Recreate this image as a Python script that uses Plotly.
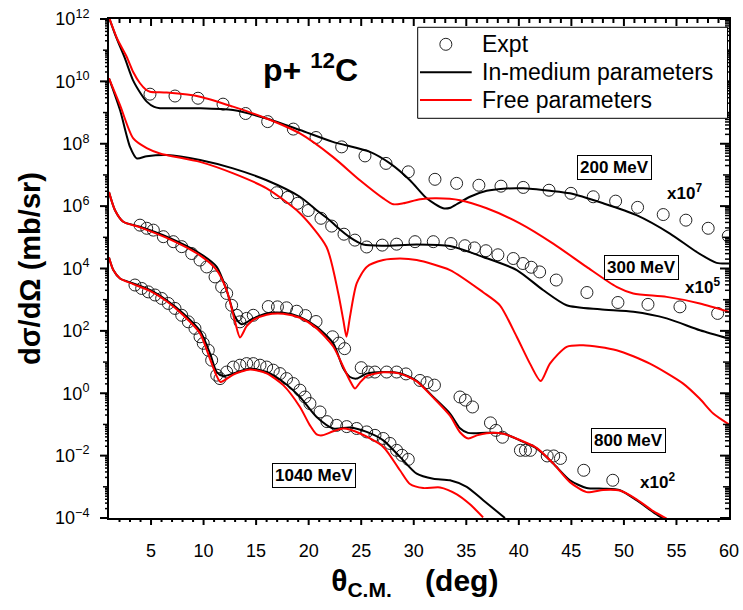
import math
import plotly.graph_objects as go

# ---------------- data (x = theta_cm in deg, values given as log10 of dsigma/dOmega) ----------------
# 200 MeV (scaled x10^7)
e200_expt_x = [4.90, 7.28, 9.47, 11.85, 14.0, 16.1, 18.54, 20.7, 23.14, 25.36, 27.36, 29.48, 32.02, 34.08,
               36.2, 38.3, 40.42, 42.87, 44.96, 47.08, 49.21, 51.3, 53.74, 55.9, 58.02, 59.93]
e200_expt_log10y = [9.59, 9.53, 9.46, 9.27, 8.97, 8.71, 8.47, 8.20, 7.90, 7.61, 7.37, 7.10, 6.86, 6.73,
                    6.67, 6.64, 6.60, 6.51, 6.41, 6.30, 6.16, 5.96, 5.73, 5.55, 5.29, 5.04]
e200_med_x = [1.0, 1.7, 2.5, 3.28, 4.0, 4.59, 5.3, 5.85, 7.5, 9.66, 12.8, 16.0, 19.17, 22.3, 25.83, 27.74,
              29.64, 31.23, 32.8, 33.5, 34.08, 35.35, 36.94, 38.52, 40.42, 42.96, 44.87, 48.03, 51.2,
              54.38, 56.92, 58.82, 60.0]
e200_med_log10y = [12.05, 11.4, 10.75, 10.04, 9.62, 9.35, 9.18, 9.14, 9.14, 9.14, 9.08, 8.81, 8.44, 8.06,
                   7.74, 7.37, 6.83, 6.25, 5.93, 5.95, 6.06, 6.30, 6.49, 6.56, 6.57, 6.49, 6.41, 6.09,
                   5.71, 5.12, 4.53, 4.18, 4.16]
e200_free_x = [1.0, 1.8, 2.68, 3.3, 3.95, 4.5, 4.9, 6.49, 9.66, 12.8, 16.0, 19.17, 22.3, 24.88, 27.1, 28.05,
               29.0, 30.6, 32.18, 34.4, 36.94, 40.1, 43.27, 46.45, 49.3, 50.89, 54.06, 57.23, 60.0]
e200_free_log10y = [12.05, 11.35, 10.79, 10.3, 9.94, 9.74, 9.67, 9.64, 9.51, 9.19, 8.81, 8.33, 7.58, 6.83,
                    6.25, 6.06, 6.09, 6.22, 6.25, 6.19, 5.93, 5.45, 4.80, 4.05, 3.41, 3.20, 3.09, 2.88, 2.61]

# 300 MeV (scaled x10^5)
e300_expt_x = [16.96, 18.0, 18.95, 19.96, 21.17, 22.19, 23.36, 24.4, 25.52, 27.0, 28.37, 30.12, 31.86, 33.54,
               34.87, 35.78, 36.87, 38.01, 39.47, 40.39, 41.18, 41.98, 43.56, 46.48, 49.43, 52.29, 55.33, 58.92]
e300_expt_log10y = [6.43, 6.28, 6.09, 5.86, 5.61, 5.36, 5.10, 4.91, 4.69, 4.75, 4.78, 4.86, 4.86, 4.80,
                    4.73, 4.66, 4.57, 4.44, 4.32, 4.16, 4.04, 3.89, 3.63, 3.23, 2.91, 2.85, 2.77, 2.56]
e300_med_x = [1.0, 2.05, 3.0, 3.64, 4.59, 6.49, 9.66, 12.8, 16.0, 19.17, 20.76, 22.0, 22.67, 23.93, 25.2,
              27.1, 30.28, 33.45, 36.6, 39.8, 42.3, 44.55, 47.72, 50.9, 54.07, 57.24, 60.0]
e300_med_log10y = [10.1, 9.08, 7.90, 7.53, 7.60, 7.64, 7.48, 7.21, 6.83, 6.30, 5.87, 5.55, 5.34, 5.0, 4.77,
                   4.73, 4.77, 4.72, 4.37, 3.95, 3.31, 2.82, 2.69, 2.61, 2.40, 2.02, 1.75]
e300_free_x = [1.0, 2.05, 3.31, 4.59, 5.85, 9.66, 12.83, 16.0, 19.17, 21.7, 22.82, 23.3, 23.6, 23.93, 24.57,
               25.52, 27.1, 28.69, 30.28, 33.45, 36.6, 38.2, 39.8, 41.06, 42.08, 42.96, 44.55, 46.13, 49.3,
               52.47, 55.64, 57.2, 58.5, 60.0]
e300_free_log10y = [10.1, 9.24, 8.17, 7.86, 7.69, 7.42, 7.05, 6.57, 5.77, 4.69, 3.20, 2.34, 1.81, 2.45, 3.52,
                    4.05, 4.27, 4.32, 4.27, 3.95, 3.24, 2.82, 1.81, 0.95, 0.39, 0.95, 1.49, 1.54, 1.38,
                    0.95, 0.31, -0.17, -0.65, -1.0]

# 800 MeV (scaled x10^2)
e800_expt_x = [3.95, 4.59, 5.22, 6.17, 7.12, 7.92, 8.87, 9.66, 10.3, 11.09, 11.72, 12.2, 12.67, 13.15, 13.46,
               14.1, 14.73, 16.16, 17.03, 17.9, 18.86, 19.7, 20.7, 22.27, 22.88, 23.42, 25.0, 25.67, 26.3,
               27.42, 28.37, 29.26, 30.59, 31.26, 31.97, 34.4, 34.92, 35.59, 37.3, 37.82, 38.44, 40.15,
               40.63, 41.1, 42.7, 43.32, 43.96, 46.18, 48.94]
e800_expt_log10y = [5.39, 5.29, 5.23, 5.02, 4.86, 4.70, 4.48, 4.27, 4.05, 3.73, 3.41, 3.20, 2.82, 2.50, 2.29,
                    2.40, 2.50, 2.78, 2.77, 2.74, 2.63, 2.49, 2.30, 1.81, 1.61, 1.43, 0.82, 0.68, 0.68,
                    0.68, 0.68, 0.62, 0.41, 0.34, 0.26, -0.12, -0.22, -0.44, -0.95, -1.19, -1.41, -1.83,
                    -1.83, -1.83, -2.01, -2.01, -2.09, -2.47, -2.79]
e800_med_x = [1.0, 1.57, 2.36, 3.95, 6.49, 9.66, 11.25, 12.2, 12.99, 13.63, 14.73, 16.0, 17.58, 19.17, 20.76,
              22.34, 23.29, 23.93, 24.57, 25.52, 27.1, 28.69, 30.28, 31.86, 33.45, 34.4, 35.16, 36.94,
              38.52, 40.1, 41.69, 43.27, 44.86, 46.45, 48.03, 49.62, 51.2, 52.79, 53.74]
e800_med_log10y = [6.45, 5.87, 5.50, 5.34, 5.02, 4.48, 4.05, 3.30, 2.45, 2.21, 2.40, 2.56, 2.58, 2.45, 2.13,
                   1.60, 0.80, 0.52, 0.47, 0.63, 0.68, 0.64, 0.40, -0.12, -0.65, -1.12, -1.27, -1.27,
                   -1.29, -1.51, -1.77, -2.25, -2.79, -3.04, -3.06, -3.11, -3.43, -3.81, -4.02]
e800_free_x = [1.0, 1.57, 2.36, 3.95, 6.49, 9.66, 11.25, 12.2, 12.99, 13.47, 14.1, 14.73, 16.0, 17.58, 19.17,
               20.76, 22.34, 23.29, 23.93, 24.4, 24.9, 25.52, 27.1, 28.69, 30.28, 31.86, 33.45, 34.4, 35.19,
               36.0, 36.94, 38.52, 40.1, 41.69, 43.27, 44.86, 46.45, 48.03, 49.62, 51.2, 52.79, 54.06]
e800_free_log10y = [6.45, 5.87, 5.50, 5.32, 4.98, 4.42, 3.95, 3.30, 2.30, 1.79, 2.15, 2.35, 2.52, 2.55, 2.42,
                    2.08, 1.50, 0.85, 0.40, 0.15, 0.35, 0.55, 0.67, 0.63, 0.38, -0.14, -0.72, -1.25, -1.45,
                    -1.35, -1.28, -1.30, -1.50, -1.75, -2.25, -2.85, -3.17, -3.10, -3.12, -3.40, -3.78, -4.02]

# 1040 MeV (unscaled)
e1040_expt_x = [3.47, 4.11, 4.74, 5.38, 6.01, 6.64, 7.28, 7.92, 8.55, 9.18, 9.66, 9.97, 10.45, 10.77, 11.25,
                11.56, 12.2, 12.83, 13.46, 14.1, 14.73, 15.37, 16.0, 16.63, 17.27, 17.9, 18.54, 19.17,
                19.65, 20.12, 21.08, 21.74, 22.66, 23.62, 24.57, 25.52, 26.31, 27.1, 27.74, 28.37, 28.88, 29.48]
e1040_expt_log10y = [3.47, 3.36, 3.25, 3.15, 3.04, 2.88, 2.72, 2.50, 2.29, 2.08, 1.81, 1.60, 1.38, 1.06, 0.58,
                     0.47, 0.68, 0.84, 0.90, 0.95, 0.95, 0.90, 0.84, 0.74, 0.63, 0.47, 0.31, 0.10,
                     -0.12, -0.33, -0.60, -0.91, -1.03, -1.07, -1.13, -1.24, -1.35, -1.45, -1.61, -1.83,
                     -1.99, -2.12]
e1040_med_x = [1.0, 1.41, 2.05, 3.31, 4.9, 6.49, 8.07, 9.66, 10.61, 11.25, 11.88, 12.83, 14.42, 16.0, 17.58,
               19.17, 20.76, 22.34, 23.93, 25.52, 27.1, 28.69, 30.28, 31.86, 33.45, 35.04, 36.61, 38.68]
e1040_med_log10y = [4.35, 3.95, 3.68, 3.52, 3.31, 2.98, 2.56, 2.0, 1.28, 0.68, 0.55, 0.63, 0.79, 0.68, 0.36,
                    -0.12, -0.76, -1.13, -1.10, -1.24, -1.51, -2.04, -2.58, -2.74, -2.79, -3.0, -3.43, -4.0]
e1040_free_x = [1.0, 1.41, 2.05, 3.31, 4.9, 6.49, 8.07, 9.66, 10.61, 11.25, 11.6, 12.0, 12.83, 14.42, 16.0,
                17.58, 19.17, 20.12, 20.76, 21.3, 22.34, 23.3, 24.9, 27.1, 28.69, 29.64, 30.9, 32.5, 34.1,
                35.35, 36.6]
e1040_free_log10y = [4.35, 3.95, 3.68, 3.50, 3.28, 2.95, 2.50, 1.92, 1.10, 0.55, 0.36, 0.42, 0.60, 0.76, 0.64,
                     0.26, -0.44, -1.03, -1.32, -1.35, -1.22, -1.13, -1.29, -1.72, -2.47, -2.91, -3.04,
                     -3.02, -3.24, -3.56, -3.98]

energy_labels = ["200 MeV", "300 MeV", "800 MeV", "1040 MeV"]
scale_labels = ["x10<sup>7</sup>", "x10<sup>5</sup>", "x10<sup>2</sup>"]
legend_names = ["Expt", "In-medium parameters", "Free parameters"]
y_tick_exponents = [-4, -2, 0, 2, 4, 6, 8, 10, 12]
y_tick_labels = ["10<sup>−4</sup>", "10<sup>−2</sup>", "10<sup>0</sup>", "10<sup>2</sup>", "10<sup>4</sup>",
                 "10<sup>6</sup>", "10<sup>8</sup>", "10<sup>10</sup>", "10<sup>12</sup>"]

FONT = "Liberation Sans, Arial, sans-serif"
BLACK = "black"
RED = "#ff0000"
MARK = "#222222"
X_RANGE = [1, 60]
Y_LOG_RANGE = [-4, 12]
PLOT_W = 743 - 109 - 14   # plot area width in px
PLOT_H = 610 - 19 - 92    # plot area height in px


def lin(vals):
    return [10 ** v for v in vals]


fig = go.Figure()

datasets = [
    (e200_expt_x, e200_expt_log10y, e200_med_x, e200_med_log10y, e200_free_x, e200_free_log10y),
    (e300_expt_x, e300_expt_log10y, e300_med_x, e300_med_log10y, e300_free_x, e300_free_log10y),
    (e800_expt_x, e800_expt_log10y, e800_med_x, e800_med_log10y, e800_free_x, e800_free_log10y),
    (e1040_expt_x, e1040_expt_log10y, e1040_med_x, e1040_med_log10y, e1040_free_x, e1040_free_log10y),
]

for ex, ey, mx, my, fx, fy in datasets:
    fig.add_trace(go.Scatter(x=ex, y=lin(ey), mode="markers", name=legend_names[0], showlegend=False,
                             marker=dict(symbol="circle-open", size=12, color=MARK,
                                         line=dict(width=1, color=MARK))))
for ex, ey, mx, my, fx, fy in datasets:
    fig.add_trace(go.Scatter(x=mx, y=lin(my), mode="lines", name=legend_names[1], showlegend=False,
                             line=dict(color=BLACK, width=2, shape="spline", smoothing=0.7)))
for ex, ey, mx, my, fx, fy in datasets:
    fig.add_trace(go.Scatter(x=fx, y=lin(fy), mode="lines", name=legend_names[2], showlegend=False,
                             line=dict(color=RED, width=2, shape="spline", smoothing=0.7)))

tickfont = dict(family=FONT, size=18, color="black")
CLEAR = "rgba(0,0,0,0)"

fig.update_layout(
    width=743, height=610,
    margin=dict(l=109, r=14, t=19, b=92),
    paper_bgcolor="white", plot_bgcolor="white",
    font=dict(family=FONT, color="black"),
    showlegend=False,
    # native ticks are transparent: they only set the label distance; visible ticks are drawn below
    xaxis=dict(range=X_RANGE, tick0=0, dtick=5, ticks="outside", ticklen=15, tickcolor=CLEAR,
               showline=True, linewidth=2, linecolor="black", mirror=True,
               showgrid=False, zeroline=False, tickfont=tickfont, automargin=False,
               title=dict(text="<b>θ<sub>C.M.</sub>\u00a0\u00a0\u00a0\u00a0(deg)\u00a0</b>",
                          font=dict(family=FONT, size=30, color="black"), standoff=10)),
    yaxis=dict(type="log", range=Y_LOG_RANGE, tickmode="array",
               tickvals=[10.0 ** e for e in y_tick_exponents],
               ticktext=y_tick_labels, ticks="outside", ticklen=14, tickcolor=CLEAR,
               showline=True, linewidth=2, linecolor="black", mirror=True, showgrid=False,
               zeroline=False, tickfont=tickfont, automargin=False,
               title=dict(text="<b>dσ/dΩ (mb/sr)</b>",
                          font=dict(family=FONT, size=29, color="black"), standoff=6)),
)

# ---- visible tick marks (Origin style): outside on left/bottom, inside on top/right ----
tick_major = dict(color="black", width=2)
tick_minor = dict(color="black", width=1.5)
for n in range(Y_LOG_RANGE[0], Y_LOG_RANGE[1] + 1):
    for k in range(1, 10):
        if n == Y_LOG_RANGE[1] and k > 1:
            break
        yf = (n + math.log10(k) - Y_LOG_RANGE[0]) / (Y_LOG_RANGE[1] - Y_LOG_RANGE[0])
        major = (k == 1 and n % 2 == 0)
        ln = 9 if major else (6 if k == 1 else 4)
        style = tick_major if major else tick_minor
        fig.add_shape(type="line", xref="paper", yref="paper", x0=-ln / PLOT_W, x1=0,
                      y0=yf, y1=yf, line=style)
        fig.add_shape(type="line", xref="paper", yref="paper", x0=1 - ln / PLOT_W, x1=1,
                      y0=yf, y1=yf, line=style)
for xv in range(2, 60):
    ln = 7 if xv % 5 == 0 else 4
    xf = (xv - X_RANGE[0]) / (X_RANGE[1] - X_RANGE[0])
    fig.add_shape(type="line", xref="paper", yref="paper", x0=xf, x1=xf, y0=0, y1=-ln / PLOT_H,
                  line=tick_major)
    fig.add_shape(type="line", xref="paper", yref="paper", x0=xf, x1=xf, y0=1, y1=1 - ln / PLOT_H,
                  line=tick_major)

# energy labels (boxed) and scale factors
label_pos = [(49.12, 7.25), (51.65, 4.03), (50.41, -1.51), (20.49, -2.65)]
for txt, (lx, ly) in zip(energy_labels, label_pos):
    fig.add_annotation(x=lx, y=ly, xref="x", yref="y", text="<b>" + txt + "</b>", showarrow=False,
                       font=dict(family=FONT, size=17, color="black"), bordercolor="black",
                       borderwidth=1, borderpad=2, bgcolor="white")
scale_pos = [(55.8, 6.45), (57.45, 3.45), (53.24, -2.8)]
for txt, (lx, ly) in zip(scale_labels, scale_pos):
    fig.add_annotation(x=lx, y=ly, xref="x", yref="y", text="<b>" + txt + "</b>", showarrow=False,
                       font=dict(family=FONT, size=17, color="black"))

fig.add_annotation(x=20.13, y=10.43, xref="x", yref="y", text="<b>p+ <sup>12</sup>C</b>",
                   showarrow=False, font=dict(family=FONT, size=32, color="black"))

# ---- legend box (drawn in paper coordinates) ----
legend_box = dict(x0=0.4979, x1=0.9976, y0=0.801, y1=0.9834)
legend_rows_y = [0.9493, 0.8932, 0.8377]
legend_sym_x = (0.5016, 0.5850)
legend_text_x = 0.598
fig.add_shape(type="rect", xref="paper", yref="paper", line=dict(color="black", width=1),
              fillcolor="white", **legend_box)
fig.add_shape(type="circle", xref="paper", yref="paper", xsizemode="pixel", ysizemode="pixel",
              xanchor=(legend_sym_x[0] + legend_sym_x[1]) / 2, yanchor=legend_rows_y[0],
              x0=-6, x1=6, y0=-6, y1=6, line=dict(color=MARK, width=1))
for row_y, col in zip(legend_rows_y[1:], [BLACK, RED]):
    fig.add_shape(type="line", xref="paper", yref="paper", x0=legend_sym_x[0], x1=legend_sym_x[1],
                  y0=row_y, y1=row_y, line=dict(color=col, width=2))
for row_y, name in zip(legend_rows_y, legend_names):
    fig.add_annotation(x=legend_text_x, y=row_y, xref="paper", yref="paper", text=name,
                       xanchor="left", yanchor="middle", showarrow=False,
                       font=dict(family=FONT, size=23, color="black"))

fig.write_html("out.html")
